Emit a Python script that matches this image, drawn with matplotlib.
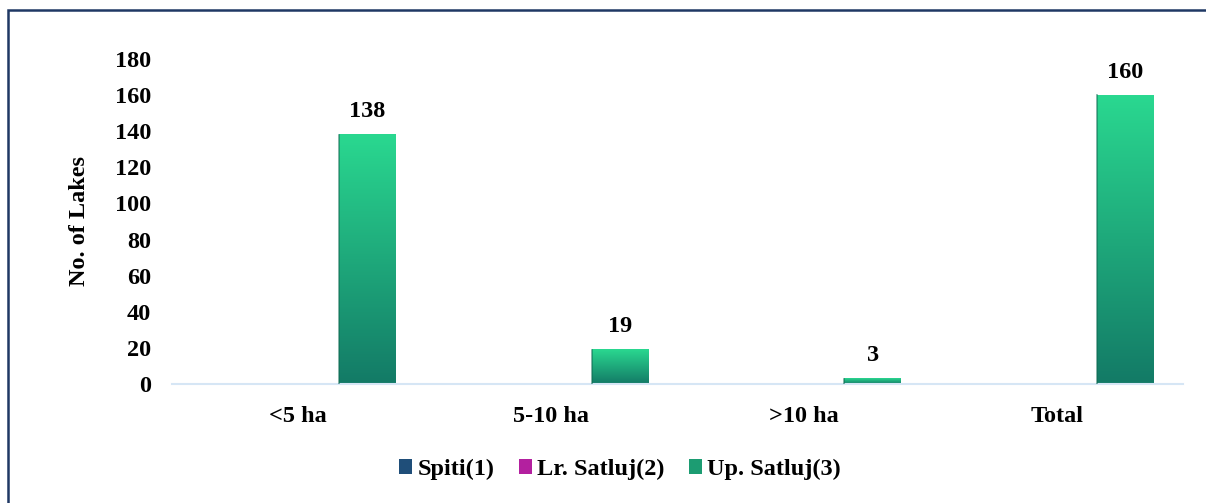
import numpy as np
import matplotlib.pyplot as plt
from matplotlib.colors import LinearSegmentedColormap
from matplotlib.patches import Rectangle, Patch

# lake counts by size class for each basin
categories = ['<5 ha', '5-10 ha', '>10 ha', 'Total']
series_names = ['Spiti(1)', 'Lr. Satluj(2)', 'Up. Satluj(3)']
spiti = [0, 0, 0, 0]
lr_satluj = [0, 0, 0, 0]
up_satluj = [138, 19, 3, 160]
yticks = [0, 20, 40, 60, 80, 100, 120, 140, 160, 180]

# (top colour, bottom colour) of the vertical gradient fill per series
gradients = [('#2E75B6', '#1F3864'),
             ('#D63BC8', '#8E1480'),
             ('#2AD890', '#137A66')]
legend_colors = ['#1F4E79', '#B3209F', '#1C9C72']

plt.rcParams['font.family'] = ['Liberation Serif', 'DejaVu Serif']
plt.rcParams['font.weight'] = 'bold'
FS = 17.5

fig = plt.figure(figsize=(12.06, 5.03), dpi=100)
ax = fig.add_axes([0.1426, 0.2366, 0.8383, 0.6461])

x = np.arange(len(categories))
width = 0.225
step = 0.273
data = [spiti, lr_satluj, up_satluj]

grad = np.linspace(1, 0, 256).reshape(-1, 1)
for i, vals in enumerate(data):
    cmap = LinearSegmentedColormap.from_list('g%d' % i, [gradients[i][1], gradients[i][0]])
    pos = x + (i - 1) * step
    bars = ax.bar(pos, vals, width, color='none', edgecolor='none', zorder=2)
    for b, v in zip(bars, vals):
        if v <= 0:
            continue
        x0, y0 = b.get_x(), b.get_y()
        ax.imshow(grad, cmap=cmap, aspect='auto', zorder=2,
                  extent=[x0, x0 + b.get_width(), y0, y0 + v], vmin=0, vmax=1)
        # thin darker edge on the left side of each bar
        ax.plot([x0, x0], [0, v], color='#0F6A52', lw=1.2, alpha=0.6, zorder=3)
        ax.annotate(str(v), (x0 + b.get_width() / 2, v), xytext=(0, 12.5),
                    textcoords='offset points', ha='center', va='baseline',
                    fontsize=FS, fontweight='bold')

ax.set_xlim(-0.5, len(categories) - 0.5)
ax.set_ylim(0, 180)
ax.set_yticks(yticks)
ax.set_xticks(x)
ax.set_xticklabels(categories)
ax.tick_params(axis='both', length=0, labelsize=FS)
ax.tick_params(axis='x', pad=15.5)
ax.tick_params(axis='y', pad=15)
for lbl in ax.get_xticklabels() + ax.get_yticklabels():
    lbl.set_fontweight('bold')

for side in ['top', 'right', 'left']:
    ax.spines[side].set_visible(False)
ax.spines['bottom'].set_color('#D6E6F5')
ax.spines['bottom'].set_linewidth(1.5)

ax.set_ylabel('No. of Lakes', fontsize=FS, fontweight='bold')
ax.yaxis.set_label_coords(-0.081, 0.5)

handles = [Patch(facecolor=c, edgecolor='none') for c in legend_colors]
fig.legend(handles, series_names, loc='center', bbox_to_anchor=(0.514, 0.066),
           ncol=3, frameon=False, handlelength=0.55,
           handleheight=0.55, handletextpad=0.2, columnspacing=1.0,
           prop={'weight': 'bold', 'size': FS})

# outer chart frame
fig.patches.append(Rectangle((7.5 / 1206, -0.1), 1.2, 1 - 10.5 / 503 + 0.1,
                             transform=fig.transFigure, fill=False,
                             edgecolor='#1F3864', linewidth=1.8))

fig.savefig('out.png', dpi=100)
